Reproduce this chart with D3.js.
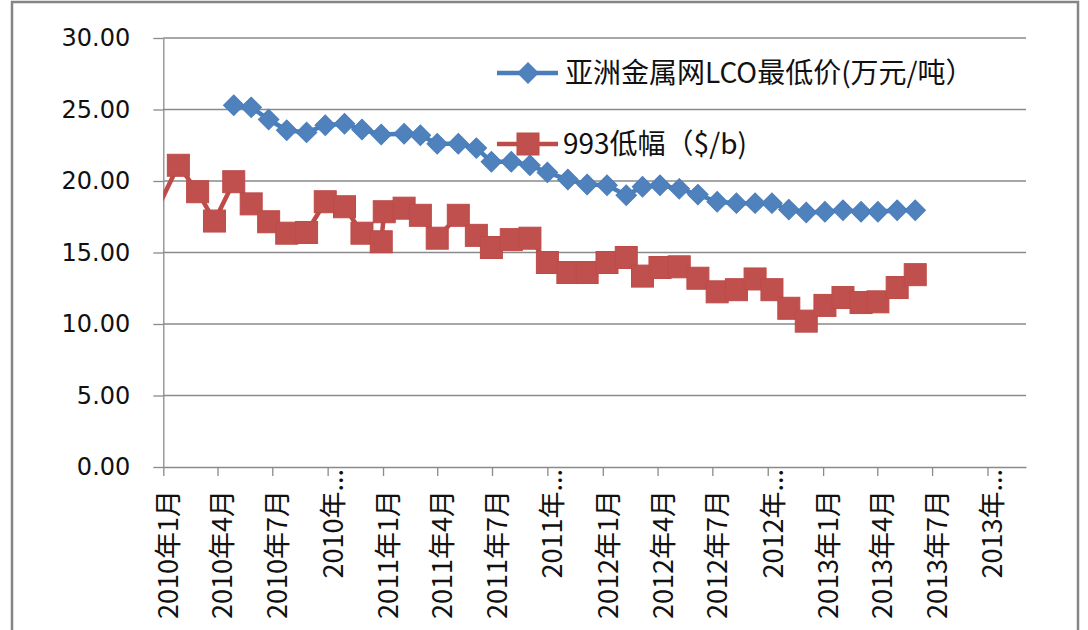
<!DOCTYPE html>
<html>
<head>
<meta charset="utf-8">
<script src="https://cdn.jsdelivr.net/npm/d3@7"></script>
<style>
  body { margin: 0; background: #fff; }
  svg { display: block; }
</style>
</head>
<body>
<div id="chart"></div>
<script>
// observation dates (shared by both series)
var dates = ["2009-12-26","2010-01-26","2010-02-27","2010-03-27","2010-04-28","2010-05-27",
  "2010-06-25","2010-07-25","2010-08-27","2010-09-27","2010-10-29","2010-11-27",
  "2010-12-29","2011-01-03","2011-02-05","2011-03-04","2011-04-01","2011-05-06",
  "2011-06-05","2011-06-30","2011-08-02","2011-09-02","2011-10-01","2011-11-04",
  "2011-12-06","2012-01-08","2012-02-09","2012-03-07","2012-04-05","2012-05-07",
  "2012-06-07","2012-07-09","2012-08-10","2012-09-10","2012-10-08","2012-11-05",
  "2012-12-04","2013-01-04","2013-02-03","2013-03-05","2013-04-02","2013-05-04","2013-06-03"];

// 亚洲金属网LCO最低价 (万元/吨)
var lcoPrice = [null,null,null,null,25.3,25.15,
  24.3,23.55,23.4,23.9,24.0,23.6,
  23.25,null,23.3,23.2,22.6,22.6,
  22.3,21.35,21.35,21.1,20.6,20.1,
  19.75,19.7,19.0,19.6,19.7,19.45,
  19.05,18.55,18.45,18.45,18.45,18.0,
  17.8,17.85,17.95,17.85,17.85,17.95,17.95];

// 993低幅 ($/b)
var low993 = [18.4,21.1,19.25,17.2,19.95,18.4,
  17.15,16.35,16.4,18.55,18.2,16.35,
  15.75,17.85,18.1,17.6,16.0,17.6,
  16.2,15.35,15.9,16.0,14.3,13.6,
  13.6,14.3,14.65,13.35,13.95,14.0,
  13.2,12.25,12.4,13.15,12.4,11.1,
  10.2,11.3,11.85,11.5,11.55,12.55,13.45];

var seriesNames = ["亚洲金属网LCO最低价(万元/吨）", "993低幅（$/b)"];

var xTickDates = ["2010-01-01","2010-04-01","2010-07-01","2010-10-01",
  "2011-01-01","2011-04-01","2011-07-01","2011-10-01",
  "2012-01-01","2012-04-01","2012-07-01","2012-10-01",
  "2013-01-01","2013-04-01","2013-07-01","2013-10-01"];
var xTickLabels = ["2010年1月","2010年4月","2010年7月","2010年...",
  "2011年1月","2011年4月","2011年7月","2011年...",
  "2012年1月","2012年4月","2012年7月","2012年...",
  "2013年1月","2013年4月","2013年7月","2013年..."];
var yTicks = [0, 5, 10, 15, 20, 25, 30];

(function(){
  var W = 1088, H = 630;
  var plotL = 163.3, plotR = 1026, plotT = 38, plotB = 467;
  var blue = "#4A7EBB", blueFill = "#4F81BD", red = "#BE4B48", redFill = "#C0504D";
  var gridCol = "#8a8a8a";

  var parse = d3.timeParse("%Y-%m-%d");

  var svg = d3.select("#chart").append("svg")
    .attr("width", W).attr("height", H);

  // outer frame
  svg.append("rect")
    .attr("x", 12).attr("y", 2).attr("width", 1066).attr("height", 660)
    .attr("fill", "none").attr("stroke", "#858585").attr("stroke-width", 2.5);

  var x = d3.scaleTime()
    .domain([parse("2010-01-01"), parse("2013-12-04")])
    .range([plotL, plotR]);
  var y = d3.scaleLinear().domain([0, 30]).range([plotB, plotT]);

  // gridlines
  svg.append("g").selectAll("line")
    .data(yTicks.filter(function(d){ return d > 0; }))
    .enter().append("line")
    .attr("x1", plotL).attr("x2", plotR)
    .attr("y1", function(d){ return y(d); })
    .attr("y2", function(d){ return y(d); })
    .attr("stroke", gridCol).attr("stroke-width", 1.3);

  // y axis
  var yAxis = svg.append("g")
    .attr("transform", "translate(" + plotL + ",0)")
    .call(d3.axisLeft(y).tickValues(yTicks).tickFormat(d3.format(".2f"))
      .tickSize(10).tickSizeOuter(0).tickPadding(23));
  yAxis.select(".domain").attr("stroke", gridCol).attr("stroke-width", 1.3);
  yAxis.selectAll(".tick line").attr("stroke", gridCol).attr("stroke-width", 1.3);
  yAxis.selectAll(".tick text")
    .attr("font-family", "'DejaVu Sans', sans-serif")
    .attr("font-size", 24).attr("fill", "#111");

  // x axis
  var xAxis = svg.append("g")
    .attr("transform", "translate(0," + plotB + ")")
    .call(d3.axisBottom(x).tickValues(xTickDates.map(parse))
      .tickFormat(function(d, i){ return xTickLabels[i]; })
      .tickSize(9).tickSizeOuter(0));
  xAxis.select(".domain").attr("stroke", gridCol).attr("stroke-width", 1.3);
  xAxis.selectAll(".tick line").attr("stroke", gridCol).attr("stroke-width", 1.3);
  xAxis.selectAll(".tick text")
    .attr("font-family", "'Noto Sans CJK SC', sans-serif")
    .attr("font-size", 27).attr("fill", "#111")
    .attr("text-anchor", "end")
    .attr("dominant-baseline", "central")
    .attr("dy", null)
    .attr("y", 0)
    .attr("transform", function(d, i){
      var cut = xTickLabels[i].indexOf("...") >= 0;
      return "translate(3," + (cut ? 2 : 23) + ") rotate(-90)";
    });

  // clip for lines
  svg.append("clipPath").attr("id", "plotClip")
    .append("rect").attr("x", plotL).attr("y", 0)
    .attr("width", plotR - plotL).attr("height", H);

  function rows(vals){
    var out = [];
    for (var i = 0; i < dates.length; i++) {
      if (vals[i] != null) out.push({date: parse(dates[i]), v: vals[i]});
    }
    return out;
  }
  var lcoData = rows(lcoPrice), lowData = rows(low993);
  var inRange = function(d){ return d.date >= x.domain()[0]; };

  var line = d3.line()
    .x(function(d){ return x(d.date); })
    .y(function(d){ return y(d.v); });

  var diamond = d3.symbol().type(d3.symbolSquare).size(210);

  // blue series
  svg.append("path").datum(lcoData)
    .attr("clip-path", "url(#plotClip)")
    .attr("fill", "none").attr("stroke", blue).attr("stroke-width", 4.5)
    .attr("stroke-linejoin", "round").attr("d", line);
  svg.append("g").selectAll("path")
    .data(lcoData.filter(inRange))
    .enter().append("path")
    .attr("d", diamond)
    .attr("transform", function(d){ return "translate(" + x(d.date) + "," + y(d.v) + ") rotate(45)"; })
    .attr("fill", blueFill).attr("stroke", blue).attr("stroke-width", 1);

  // red series
  svg.append("path").datum(lowData)
    .attr("clip-path", "url(#plotClip)")
    .attr("fill", "none").attr("stroke", red).attr("stroke-width", 4.5)
    .attr("stroke-linejoin", "round").attr("d", line);
  svg.append("g").selectAll("rect")
    .data(lowData.filter(inRange))
    .enter().append("rect")
    .attr("x", function(d){ return x(d.date) - 11; })
    .attr("y", function(d){ return y(d.v) - 11; })
    .attr("width", 22).attr("height", 22)
    .attr("fill", redFill).attr("stroke", red).attr("stroke-width", 1);

  // legend
  var leg = svg.append("g").attr("transform", "translate(497,0)");
  var legY = [73, 144];
  seriesNames.forEach(function(name, i){
    var g = leg.append("g").attr("transform", "translate(0," + legY[i] + ")");
    g.append("line").attr("x1", 0).attr("x2", 61).attr("y1", 0).attr("y2", 0)
      .attr("stroke", i === 0 ? blue : red).attr("stroke-width", 4.5);
    if (i === 0) {
      g.append("path").attr("d", diamond)
        .attr("transform", "translate(31,0) rotate(45)")
        .attr("fill", blueFill).attr("stroke", blue);
    } else {
      g.append("rect").attr("x", 20).attr("y", -11).attr("width", 22).attr("height", 22)
        .attr("fill", redFill).attr("stroke", red);
    }
    g.append("text")
      .attr("x", i === 0 ? 68 : 66).attr("y", -2)
      .attr("dominant-baseline", "central")
      .attr("font-family", "'Noto Sans CJK SC', sans-serif")
      .attr("font-size", 28).attr("fill", "#111")
      .text(name);
  });
})();
</script>
</body>
</html>
